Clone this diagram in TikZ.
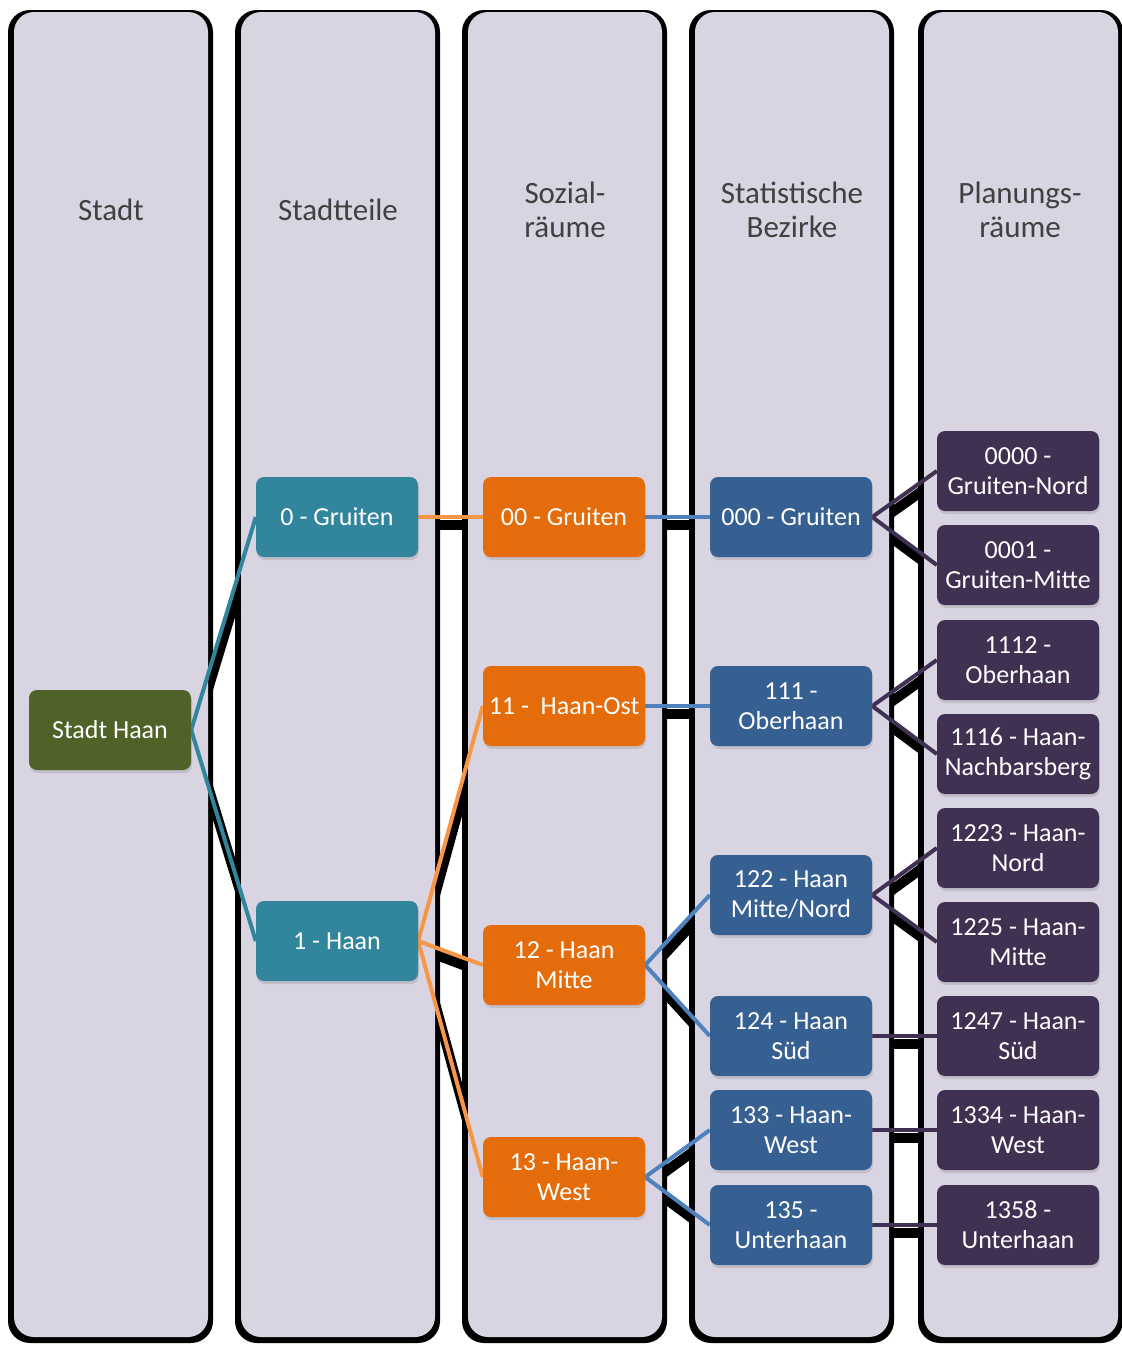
\documentclass[tikz,border=0pt]{standalone}
\usepackage{fontspec}
\setmainfont{Carlito}
\usetikzlibrary{shadows}
\pgfdeclarelayer{shad}
\pgfdeclarelayer{cols}
\pgfdeclarelayer{lines}
\pgfsetlayers{shad,cols,lines,main}
\definecolor{lav}{HTML}{D8D4E2}
\definecolor{cteal}{HTML}{31859C}
\definecolor{corange}{HTML}{E46C0A}
\definecolor{cblue}{HTML}{376092}
\definecolor{cpurple}{HTML}{403152}
\definecolor{colive}{HTML}{4F6228}
\definecolor{lorange}{HTML}{F79646}
\definecolor{lblue}{HTML}{4F81BD}
\definecolor{hdr}{HTML}{404040}
\begin{document}
\begin{tikzpicture}[x=1pt,y=-1pt,
  box/.style={rounded corners=8pt, minimum width=162pt, minimum height=80pt,
    text=white, font=\fontsize{26}{30}\selectfont, align=center, inner sep=0pt,
    drop shadow={opacity=0.25,shadow xshift=1pt,shadow yshift=-3pt}},
  stadtbox/.style={box, fill=colive},
  teilbox/.style={box, fill=cteal},
  sozbox/.style={box, fill=corange},
  statbox/.style={box, fill=cblue},
  planbox/.style={box, fill=cpurple},
  header/.style={text=hdr, font=\fontsize{31}{34}\selectfont, align=center},
  conn/.style={line width=4pt},
  shline/.style={line width=10pt, black}]
\useasboundingbox (0,0) rectangle (1122,1345);
\begin{pgfonlayer}{shad}
\fill[white] (0,0) rectangle (1122,1345);
\end{pgfonlayer}

% columns
\begin{pgfonlayer}{cols}
\foreach \x in {8,235,462,689,918} {
  \fill[black, rounded corners=22pt] (\x,10) rectangle (\x+205,1343);
  \fill[lav, rounded corners=20pt] (\x+6,12) rectangle (\x+200,1337);
}
\end{pgfonlayer}

% headers
\node[header] (h1) at (111,210) {Stadt};
\node[header] (h2) at (338,210) {Stadtteile};
\node[header] (h3) at (565,210) {Sozial-\\räume};
\node[header] (h4) at (792,210) {Statistische\\Bezirke};
\node[header] (h5) at (1020,210) {Planungs-\\räume};

% nodes
\node[stadtbox] (sh) at (110,730) {Stadt Haan};
\node[teilbox] (t0) at (337,517) {0 - Gruiten};
\node[teilbox] (t1) at (337,941) {1 - Haan};

\node[sozbox] (s00) at (564,517) {00 - Gruiten};
\node[sozbox] (s11) at (564,706) {11 -~ Haan-Ost};
\node[sozbox] (s12) at (564,965) {12 - Haan\\Mitte};
\node[sozbox] (s13) at (564,1177) {13 - Haan-\\West};

\node[statbox] (b000) at (791,517) {000 - Gruiten};
\node[statbox] (b111) at (791,706) {111 -\\Oberhaan};
\node[statbox] (b122) at (791,895) {122 - Haan\\Mitte/Nord};
\node[statbox] (b124) at (791,1036) {124 - Haan\\Süd};
\node[statbox] (b133) at (791,1130) {133 - Haan-\\West};
\node[statbox] (b135) at (791,1225) {135 -\\Unterhaan};

\node[planbox] (p0000) at (1018,471) {0000 -\\Gruiten-Nord};
\node[planbox] (p0001) at (1018,565) {0001 -\\Gruiten-Mitte};
\node[planbox] (p1112) at (1018,660) {1112 -\\Oberhaan};
\node[planbox] (p1116) at (1018,754) {1116 - Haan-\\Nachbarsberg};
\node[planbox] (p1223) at (1018,848) {1223 - Haan-\\Nord};
\node[planbox] (p1225) at (1018,942) {1225 - Haan-\\Mitte};
\node[planbox] (p1247) at (1018,1036) {1247 - Haan-\\Süd};
\node[planbox] (p1334) at (1018,1130) {1334 - Haan-\\West};
\node[planbox] (p1358) at (1018,1225) {1358 -\\Unterhaan};

% connectors
\foreach \a/\b/\c in {sh/t0/cteal, sh/t1/cteal,
  t0/s00/lorange, t1/s11/lorange, t1/s12/lorange, t1/s13/lorange,
  s00/b000/lblue, s11/b111/lblue, s12/b122/lblue, s12/b124/lblue, s13/b133/lblue, s13/b135/lblue,
  b000/p0000/cpurple, b000/p0001/cpurple, b111/p1112/cpurple, b111/p1116/cpurple,
  b122/p1223/cpurple, b122/p1225/cpurple, b124/p1247/cpurple, b133/p1334/cpurple, b135/p1358/cpurple} {
  \begin{pgfonlayer}{shad}
    \draw[shline] ([shift={(2,8)}]\a.east) -- ([shift={(2,8)}]\b.west);
  \end{pgfonlayer}
  \begin{pgfonlayer}{lines}
    \draw[conn, \c] (\a.east) -- (\b.west);
  \end{pgfonlayer}
}
\end{tikzpicture}
\end{document}
